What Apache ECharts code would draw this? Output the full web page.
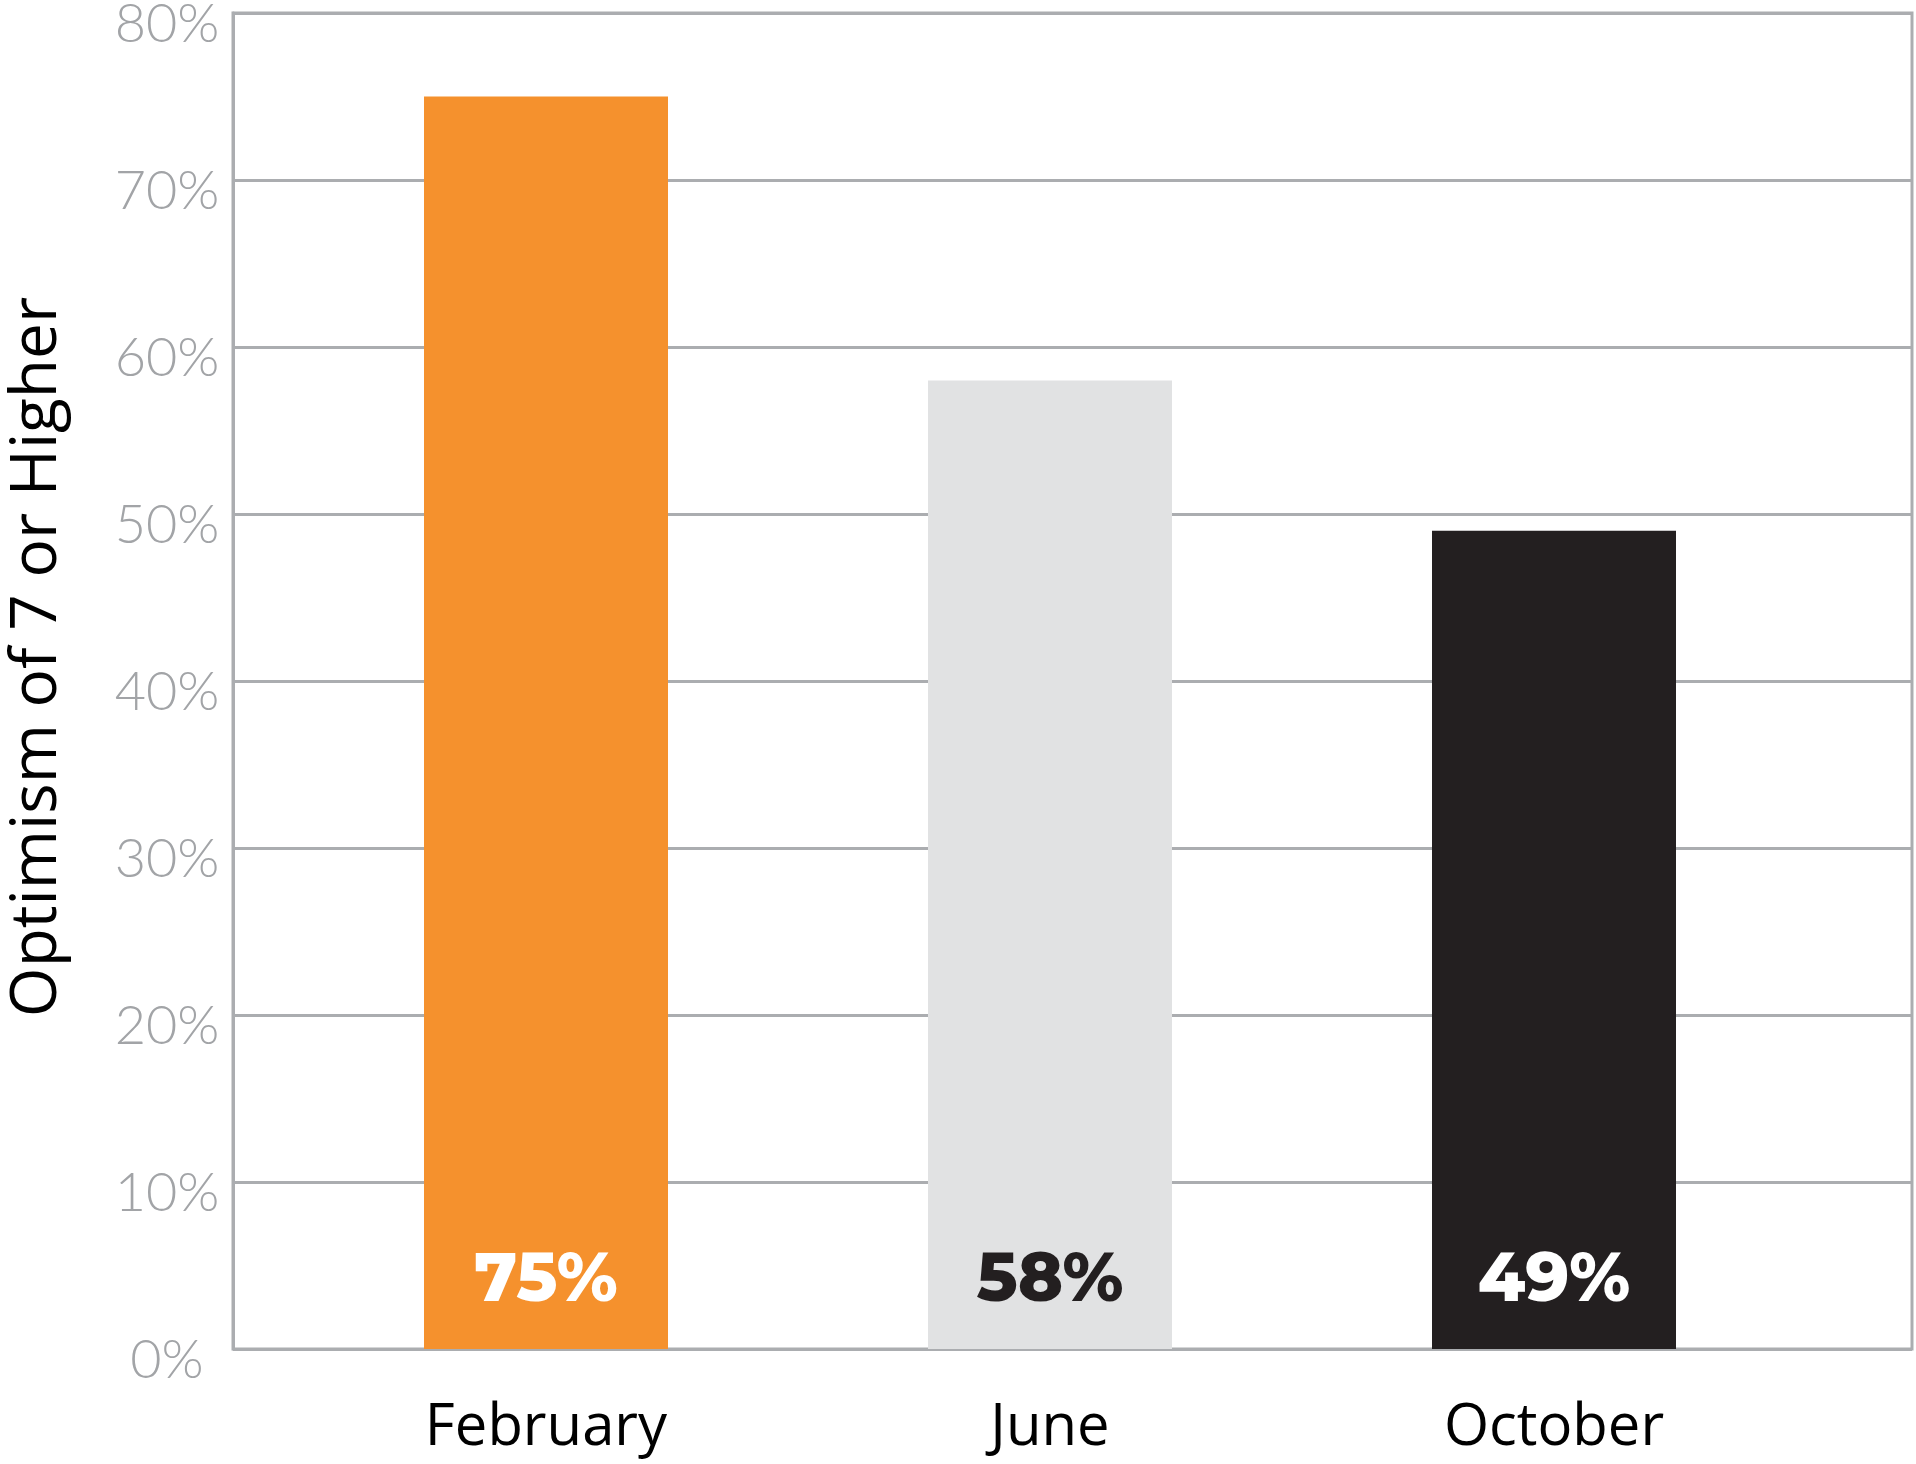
<!DOCTYPE html>
<html>
<head>
<meta charset="utf-8">
<script src="https://cdn.jsdelivr.net/npm/echarts@6/dist/echarts.min.js"></script>
<style>
html,body{margin:0;padding:0;background:#fff;}
#chart{width:1916px;height:1464px;}
</style>
</head>
<body>
<div id="chart"></div>
<script>
const categories = ['February', 'June', 'October'];
const values = [75, 58, 49];
const barColors = ['#f5912d', '#e1e2e3', '#231f20'];
const labelColors = ['#ffffff', '#231f20', '#ffffff'];
const yTicks = [0, 10, 20, 30, 40, 50, 60, 70, 80];
const yTitle = 'Optimism of 7 or Higher';

const gridColor = '#abadb0';
const chart = echarts.init(document.getElementById('chart'));
const gridTop = 13, gridBottom = 1464 - 1349;

chart.setOption({
  animation: false,
  backgroundColor: '#ffffff',
  grid: [
    { left: 233, right: 4, top: gridTop, bottom: gridBottom, show: true, borderColor: gridColor, borderWidth: 3, backgroundColor: 'transparent', containLabel: false, outerBoundsMode: 'none' },
    { left: 294, right: 110, top: gridTop, bottom: gridBottom, containLabel: false, outerBoundsMode: 'none' }
  ],
  xAxis: [
    { type: 'value', gridIndex: 0, min: 0, max: 1, show: false },
    {
      type: 'category', gridIndex: 1, data: categories,
      axisLine: { show: false }, axisTick: { show: false },
      axisLabel: { fontFamily: 'Open Sans', fontSize: 58, color: '#000', margin: 50 }
    }
  ],
  yAxis: [
    {
      type: 'value', gridIndex: 0, min: yTicks[0], max: yTicks[yTicks.length - 1], interval: 10,
      axisLine: { show: true, lineStyle: { color: gridColor, width: 3 } },
      axisTick: { show: false },
      splitLine: { show: true, lineStyle: { color: gridColor, width: 3 } },
      axisLabel: {
        formatter: v => v + '%', fontFamily: 'Lato', fontWeight: 300, fontSize: 54,
        color: '#a2a4a7', align: 'center', verticalAlign: 'top', lineHeight: 24, margin: 66
      },
      name: yTitle, nameLocation: 'middle', nameGap: 163,
      nameTextStyle: { fontFamily: 'Open Sans', fontSize: 64, color: '#000', padding: [0, 0, 0, 48] }
    },
    { type: 'value', gridIndex: 1, min: yTicks[0], max: yTicks[yTicks.length - 1], show: false }
  ],
  series: [{
    type: 'bar', xAxisIndex: 1, yAxisIndex: 1, barWidth: 244,
    data: values.map((v, i) => ({
      value: v,
      itemStyle: { color: barColors[i] },
      label: { color: labelColors[i] }
    })),
    label: {
      show: true, position: 'insideBottom', distance: 34,
      formatter: p => p.value + '%',
      fontFamily: 'Montserrat, Open Sans', fontWeight: 800, fontSize: 68
    }
  }]
});
</script>
</body>
</html>
